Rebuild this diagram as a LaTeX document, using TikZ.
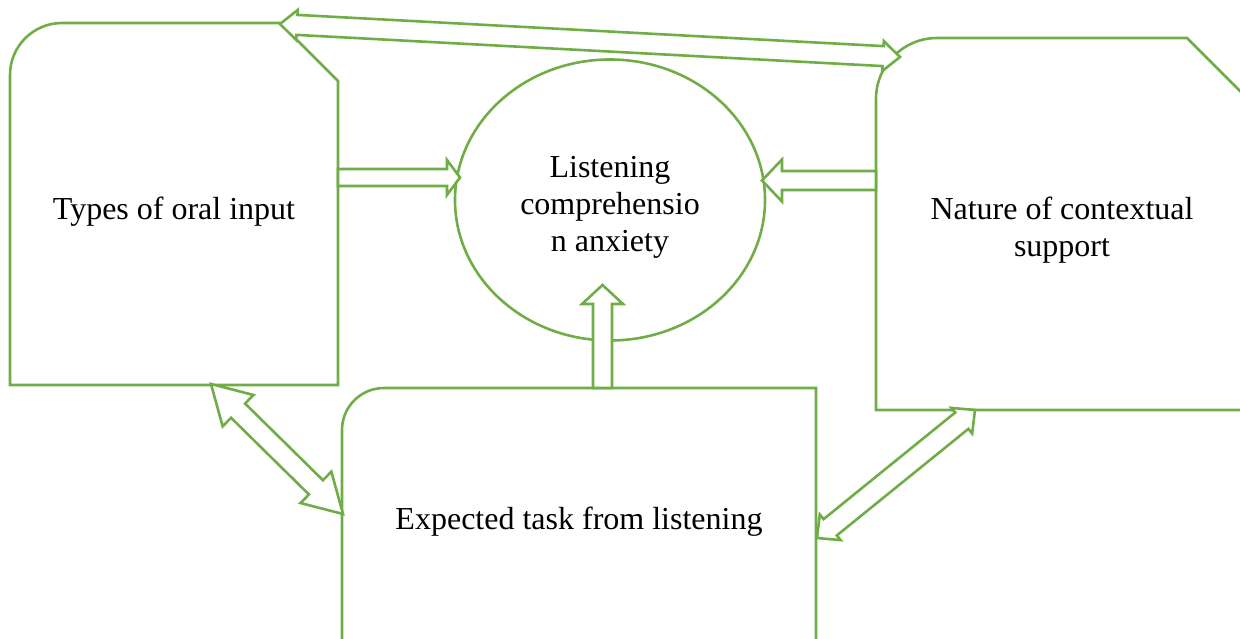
\documentclass[tikz,border=0pt]{standalone}
\usepackage{fontspec}
\setmainfont{Liberation Serif}
\usetikzlibrary{calc,shapes.geometric}
\definecolor{leaf}{HTML}{70AD47}

% Hollow block arrow from #1 to #2: half shaft width #3, half head width #4, head length #5
\newcommand\blockarrow[5]{%
  \coordinate (hb) at ($(#2)!#5!(#1)$);
  \draw[blk] ($(#1)!#3!90:(#2)$) -- ($(hb)!#3!-90:(#1)$) -- ($(hb)!#4!-90:(#1)$)
    -- (#2) -- ($(hb)!#4!90:(#1)$) -- ($(hb)!#3!90:(#1)$) -- ($(#1)!#3!-90:(#2)$) -- cycle;
}
% Hollow block arrow with heads at both ends
\newcommand\blockarrowboth[5]{%
  \coordinate (ha) at ($(#1)!#5!(#2)$);
  \coordinate (hb) at ($(#2)!#5!(#1)$);
  \draw[blk] (#1) -- ($(ha)!#4!90:(#2)$) -- ($(ha)!#3!90:(#2)$)
    -- ($(hb)!#3!-90:(#1)$) -- ($(hb)!#4!-90:(#1)$) -- (#2)
    -- ($(hb)!#4!90:(#1)$) -- ($(hb)!#3!90:(#1)$)
    -- ($(ha)!#3!-90:(#2)$) -- ($(ha)!#4!-90:(#2)$) -- cycle;
}

\begin{document}
\begin{tikzpicture}[x=1pt,y=-1pt,
  outline/.style={draw=leaf, line width=2.6pt, line join=miter},
  blk/.style={draw=leaf, line width=2.6pt, fill=white, line join=miter},
  label/.style={font=\fontsize{32}{37}\selectfont, align=center, inner sep=0pt}]
\useasboundingbox (0,0) rectangle (1240,639);

% boxes: rounded top-left corner, snipped top-right corner
\draw[outline] (10,385) -- (10,75) arc[start angle=180, end angle=270, radius=52]
  -- (280,23) -- (338,81) -- (338,385) -- cycle;
\draw[outline] (876,410) -- (876,99) arc[start angle=180, end angle=270, radius=61]
  -- (1187,38) -- (1247,98) -- (1247,410) -- cycle;
\draw[outline] (342,660) -- (342,430) arc[start angle=180, end angle=270, radius=42]
  -- (816,388) -- (816,660);

\node[outline, ellipse, minimum width=310pt, minimum height=281pt, inner sep=0pt] (anx) at (610,200) {};

\node[label] (oral) at (174,212) {Types of oral input};
\node[label] (ctx) at (1062,230) {Nature of contextual\\support};
\node[label] (task) at (579,522) {Expected task from listening};
\node[label] (anxtxt) at (610,207) {Listening\\comprehensio\\n anxiety};

% arrow end points
\coordinate (t1) at (280,24);   \coordinate (t2) at (900,57);
\coordinate (l1) at (338,177.5); \coordinate (l2) at (460,177.5);
\coordinate (r1) at (876,180.5); \coordinate (r2) at (762,180.5);
\coordinate (u1) at (602.5,388); \coordinate (u2) at (602.5,285);
\coordinate (d1) at (211,384);  \coordinate (d2) at (343,514);
\coordinate (e1) at (817,538);  \coordinate (e2) at (975,410);

\blockarrowboth{t1}{t2}{10pt}{15pt}{17pt}
\blockarrow{l1}{l2}{8.5pt}{17.5pt}{13pt}
\blockarrow{r1}{r2}{9.5pt}{21pt}{20pt}
\blockarrow{u1}{u2}{9.5pt}{20.5pt}{19pt}
\blockarrowboth{d1}{d2}{10pt}{22pt}{38pt}
\blockarrowboth{e1}{e2}{10.5pt}{16.5pt}{17pt}
\end{tikzpicture}
\end{document}
